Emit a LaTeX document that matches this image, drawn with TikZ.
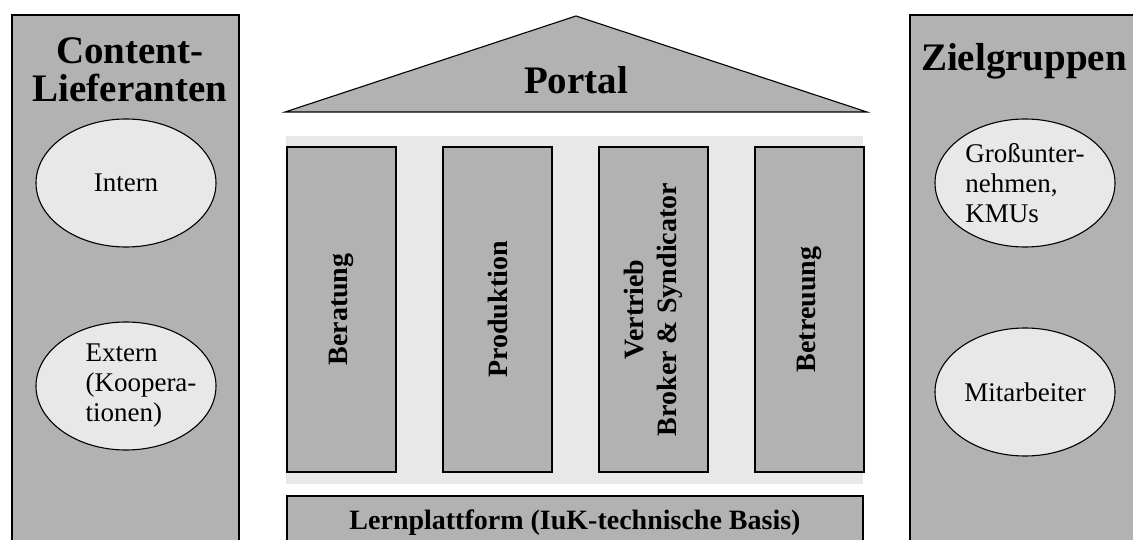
\documentclass[tikz,border=0pt]{standalone}
\usepackage{fontspec}
\setmainfont{Liberation Serif}
\usetikzlibrary{positioning}
\usetikzlibrary{shapes.geometric}

\definecolor{darkfill}{gray}{0.70}
\definecolor{lightfill}{gray}{0.91}

\begin{document}
\begin{tikzpicture}[x=1pt,y=-1pt,node distance=156pt,on grid,
    box/.style={draw,fill=darkfill,line width=1.1pt},
    pillar/.style={box,rotate=90,minimum width=325pt,minimum height=109pt,inner sep=0pt,align=center,font=\fontsize{28}{33}\selectfont\bfseries},
    bubble/.style={ellipse,draw,fill=lightfill,line width=1.1pt,minimum width=180pt,minimum height=128pt,inner sep=0pt,font=\fontsize{27}{30}\selectfont},
    heading/.style={inner sep=0pt,align=center,font=\fontsize{39}{38}\selectfont\bfseries}]
      % \draw[help lines] (0,0) grid (1133,540);
    \useasboundingbox (0,0) rectangle (1133,540);
    \clip (0,0) rectangle (1133,540);

    \fill[lightfill] (286,136) rectangle (863,484);
    \draw[box] (12,15) rectangle (239,560);
    \draw[box] (910,15) rectangle (1150,560);
    \draw[box] (285,112) -- (576,16) -- (867,112) -- cycle;
    \draw[box] (287,496) rectangle (863,560);

    \node[heading]                                   (lieferanten) at (130,70)  {Content-\\Lieferanten};
    \node[heading, anchor=base]                      (zielgruppen) at (1024,71) {Zielgruppen};
    \node[heading, anchor=base]                      (portal)      at (576,94)  {Portal};

    \node[bubble]                                    (intern) at (126,183) {Intern};
    \node[bubble, below=203pt of intern]             (extern) {};
    \node[inner sep=0pt, align=left, font=\fontsize{27}{30}\selectfont]
                                                     (externtext) at ([xshift=15pt]extern.center) {Extern\\(Koopera-\\tionen)};
    \node[bubble, align=left]                        (unternehmen) at (1025,183) {Großunter-\\nehmen,\\KMUs};
    \node[bubble, below=209pt of unternehmen]        (mitarbeiter) {Mitarbeiter};

    \node[pillar]                                    (beratung) at (341.5,309.5) {Beratung};
    \node[pillar, right=of beratung]                 (produktion) {Produktion};
    \node[pillar, right=of produktion]               (vertrieb) {Vertrieb\\Broker \& Syndicator};
    \node[pillar, right=of vertrieb]                 (betreuung) {Betreuung};

    \node[inner sep=0pt, anchor=base, font=\fontsize{28}{33}\selectfont\bfseries]
                                                     (plattform) at (575,529) {Lernplattform (IuK-technische Basis)};
  \end{tikzpicture}
\end{document}
